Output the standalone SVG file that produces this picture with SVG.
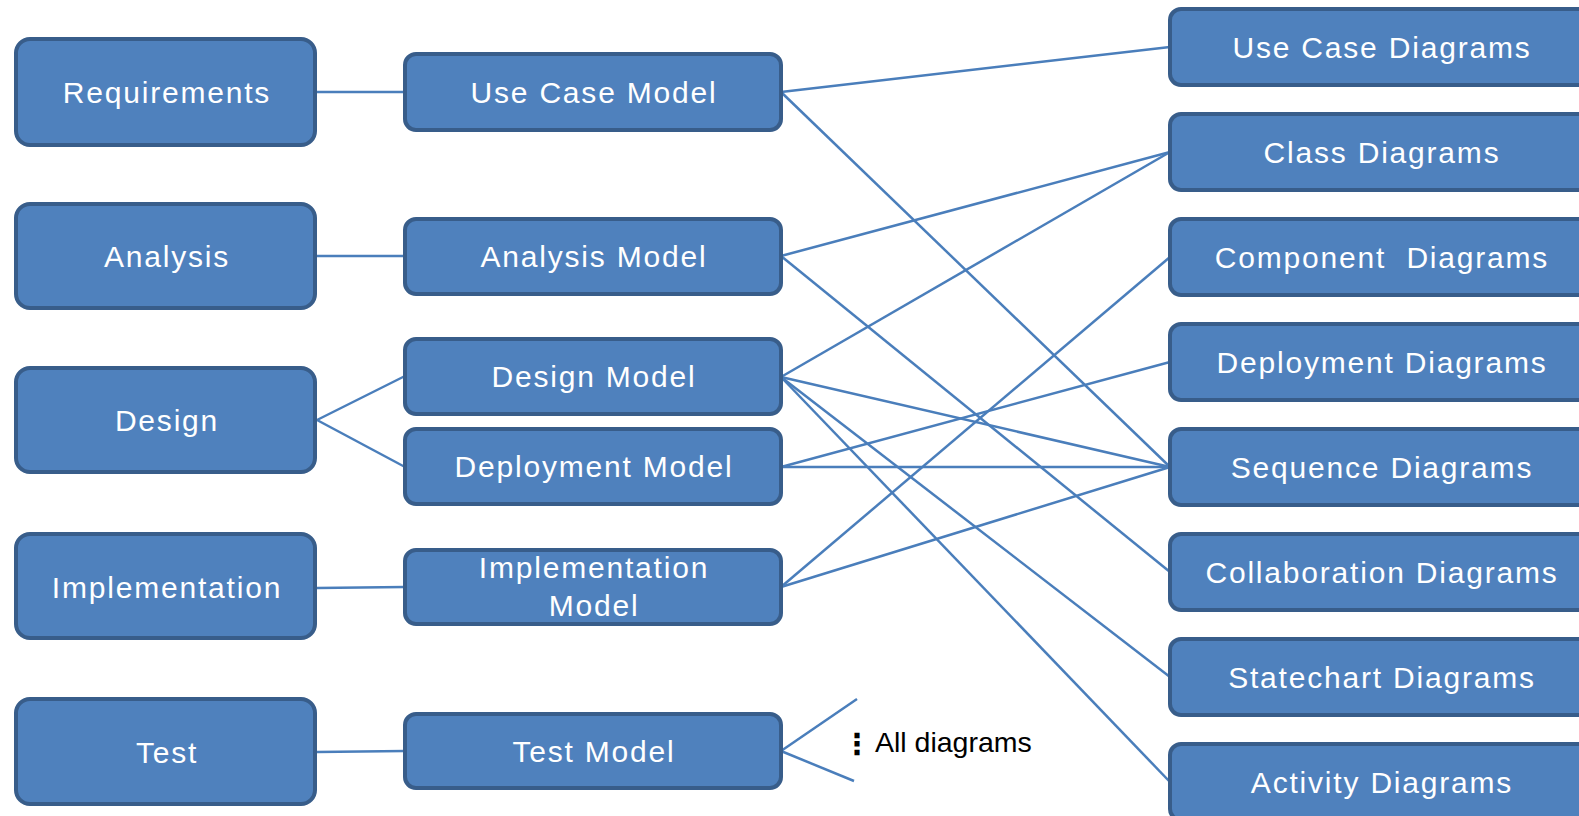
<svg xmlns="http://www.w3.org/2000/svg" width="1579" height="816" viewBox="0 0 1579 816">
<style>
.box{fill:#4F81BD;stroke:#385D8A;stroke-width:4}
.t{fill:#FFFFFF;font-family:"Liberation Sans",Arial,sans-serif;font-size:30px;letter-spacing:1.8px;text-anchor:middle}
.c{stroke:#4A7EBB;stroke-width:2.5;fill:none}
.note{fill:#000000;font-family:"Liberation Sans",Arial,sans-serif;font-size:28.5px}
</style>
<rect width="1579" height="816" fill="#FFFFFF"/>
<g id="connectors">
<line class="c" x1="317" y1="92" x2="405" y2="92"/>
<line class="c" x1="317" y1="256" x2="405" y2="256"/>
<line class="c" x1="317" y1="420" x2="405" y2="376"/>
<line class="c" x1="317" y1="420" x2="405" y2="467"/>
<line class="c" x1="317" y1="588" x2="405" y2="587"/>
<line class="c" x1="317" y1="752" x2="405" y2="751"/>
<line class="c" x1="781" y1="92" x2="1170" y2="47"/>
<line class="c" x1="781" y1="92" x2="1170" y2="467"/>
<line class="c" x1="781" y1="256" x2="1170" y2="152"/>
<line class="c" x1="781" y1="256" x2="1170" y2="572"/>
<line class="c" x1="781" y1="377" x2="1170" y2="152"/>
<line class="c" x1="781" y1="377" x2="1170" y2="467"/>
<line class="c" x1="781" y1="377" x2="1170" y2="677"/>
<line class="c" x1="781" y1="377" x2="1170" y2="782"/>
<line class="c" x1="781" y1="467" x2="1170" y2="362"/>
<line class="c" x1="781" y1="467" x2="1170" y2="467"/>
<line class="c" x1="781" y1="587" x2="1170" y2="257"/>
<line class="c" x1="781" y1="587" x2="1170" y2="467"/>
<line class="c" x1="781" y1="751" x2="857" y2="699"/>
<line class="c" x1="781" y1="751" x2="854" y2="781"/>
</g>
<g id="requirements"><rect class="box" x="16" y="39" width="299" height="106" rx="14"/><text class="t" x="167" y="103">Requirements</text></g>
<g id="analysis"><rect class="box" x="16" y="204" width="299" height="104" rx="14"/><text class="t" x="167" y="267">Analysis</text></g>
<g id="design"><rect class="box" x="16" y="368" width="299" height="104" rx="14"/><text class="t" x="167" y="431">Design</text></g>
<g id="implementation"><rect class="box" x="16" y="534" width="299" height="104" rx="14"/><text class="t" x="167" y="598">Implementation</text></g>
<g id="test"><rect class="box" x="16" y="699" width="299" height="105" rx="14"/><text class="t" x="167" y="763">Test</text></g>

<g id="use-case-model"><rect class="box" x="405" y="54" width="376" height="76" rx="11"/><text class="t" x="594" y="103">Use Case Model</text></g>
<g id="analysis-model"><rect class="box" x="405" y="219" width="376" height="75" rx="11"/><text class="t" x="594" y="267">Analysis Model</text></g>
<g id="design-model"><rect class="box" x="405" y="339" width="376" height="75" rx="11"/><text class="t" x="594" y="387">Design Model</text></g>
<g id="deployment-model"><rect class="box" x="405" y="429" width="376" height="75" rx="11"/><text class="t" x="594" y="477">Deployment Model</text></g>
<g id="implementation-model"><rect class="box" x="405" y="550" width="376" height="74" rx="11"/><text class="t" x="594" y="578">Implementation</text><text class="t" x="594" y="616">Model</text></g>
<g id="test-model"><rect class="box" x="405" y="714" width="376" height="74" rx="11"/><text class="t" x="594" y="762">Test Model</text></g>

<g id="use-case-diagrams"><rect class="box" x="1170" y="9" width="424" height="76" rx="11"/><text class="t" x="1382" y="58">Use Case Diagrams</text></g>
<g id="class-diagrams"><rect class="box" x="1170" y="114" width="424" height="76" rx="11"/><text class="t" x="1382" y="163">Class Diagrams</text></g>
<g id="component-diagrams"><rect class="box" x="1170" y="219" width="424" height="76" rx="11"/><text class="t" x="1382" y="268" style="white-space:pre">Component  Diagrams</text></g>
<g id="deployment-diagrams"><rect class="box" x="1170" y="324" width="424" height="76" rx="11"/><text class="t" x="1382" y="373">Deployment Diagrams</text></g>
<g id="sequence-diagrams"><rect class="box" x="1170" y="429" width="424" height="76" rx="11"/><text class="t" x="1382" y="478">Sequence Diagrams</text></g>
<g id="collaboration-diagrams"><rect class="box" x="1170" y="534" width="424" height="76" rx="11"/><text class="t" x="1382" y="583">Collaboration Diagrams</text></g>
<g id="statechart-diagrams"><rect class="box" x="1170" y="639" width="424" height="76" rx="11"/><text class="t" x="1382" y="688">Statechart Diagrams</text></g>
<g id="activity-diagrams"><rect class="box" x="1170" y="744" width="424" height="76" rx="11"/><text class="t" x="1382" y="793">Activity Diagrams</text></g>

<g id="all-diagrams-note">
<text x="857" y="754" style="font-family:'DejaVu Sans',sans-serif;font-size:29px;font-weight:bold;text-anchor:middle">⋮</text>
<text class="note" x="875" y="752">All diagrams</text>
</g>
</svg>
